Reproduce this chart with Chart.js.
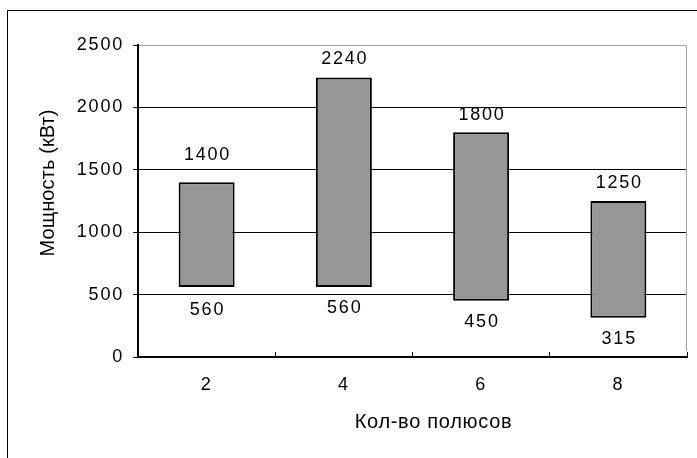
<!DOCTYPE html>
<html><head><meta charset="utf-8">
<script src="https://cdn.jsdelivr.net/npm/chart.js@4/dist/chart.umd.min.js"></script>
<style>html,body{margin:0;padding:0;background:#fff;}canvas{display:block;}</style>
</head><body>
<canvas id="c" width="697" height="458"></canvas>
<script>
const categories = ['2', '4', '6', '8'];
const minValues = [560, 560, 450, 315];
const maxValues = [1400, 2240, 1800, 1250];
const yTicks = [0, 500, 1000, 1500, 2000, 2500];
const xTitle = 'Кол-во полюсов';
const yTitle = 'Мощность (кВт)';

const FONT = "'Liberation Sans', Arial, sans-serif";
const TICK_SPACING = '1.8px';
function setSpacing(ctx, v) { try { ctx.letterSpacing = v; } catch (e) {} }

const decor = {
  id: 'decor',
  beforeUpdate(chart) { setSpacing(chart.ctx, TICK_SPACING); },
  beforeLayout(chart) { setSpacing(chart.ctx, TICK_SPACING); },
  beforeDraw(chart) {
    const ctx = chart.ctx;
    setSpacing(ctx, TICK_SPACING);
    ctx.save();
    ctx.fillStyle = '#fff';
    ctx.fillRect(0, 0, chart.width, chart.height);
    ctx.strokeStyle = '#000';
    ctx.lineWidth = 1;
    ctx.strokeRect(7.5, 10.5, chart.width + 40, chart.height + 40);
    ctx.restore();
  },
  beforeDatasetsDraw(chart) {
    const ctx = chart.ctx, a = chart.chartArea;
    ctx.save();
    ctx.strokeStyle = '#a6a6a6';
    ctx.lineWidth = 1;
    ctx.beginPath();
    ctx.moveTo(Math.round(a.right) - 0.5, a.top);
    ctx.lineTo(Math.round(a.right) - 0.5, a.bottom - 6);
    ctx.stroke();
    ctx.restore();
  },
  afterDatasetsDraw(chart, args, opts) {
    const ctx = chart.ctx;
    const meta = chart.getDatasetMeta(0);
    ctx.save();
    setSpacing(ctx, TICK_SPACING);
    ctx.fillStyle = '#000';
    ctx.font = '18px ' + FONT;
    ctx.textAlign = 'center';
    ctx.textBaseline = 'middle';
    meta.data.forEach((bar, i) => {
      const p = bar.getProps(['x', 'y', 'base'], true);
      const top = Math.min(p.y, p.base), bottom = Math.max(p.y, p.base);
      ctx.fillText(String(maxValues[i]), p.x + 0.9, top - opts.topOffsets[i]);
      ctx.fillText(String(minValues[i]), p.x + 0.9, bottom + opts.bottomOffsets[i]);
    });
    ctx.restore();
  },
  afterDraw(chart) {
    const ctx = chart.ctx, a = chart.chartArea;
    ctx.save();
    ctx.fillStyle = '#000';
    ctx.font = '20px ' + FONT;
    ctx.textAlign = 'center';
    ctx.textBaseline = 'middle';
    setSpacing(ctx, '0.7px');
    ctx.fillText(xTitle, (a.left + a.right) / 2 + 21, a.bottom + 65);
    ctx.restore();
    ctx.save();
    ctx.fillStyle = '#000';
    ctx.font = '20px ' + FONT;
    ctx.textAlign = 'center';
    ctx.textBaseline = 'middle';
    setSpacing(ctx, '0.1px');
    ctx.translate(48, (a.top + a.bottom) / 2 - 18);
    ctx.rotate(-Math.PI / 2);
    ctx.fillText(yTitle, 0, 0);
    ctx.restore();
  }
};

new Chart(document.getElementById('c'), {
  type: 'bar',
  data: {
    labels: categories,
    datasets: [{
      data: categories.map((c, i) => [minValues[i], maxValues[i]]),
      backgroundColor: '#969696',
      borderColor: '#000',
      borderWidth: 2,
      borderSkipped: false,
      barPercentage: 0.408,
      categoryPercentage: 1
    }]
  },
  options: {
    responsive: false,
    animation: false,
    devicePixelRatio: 1,
    layout: { padding: { left: 0, top: 45, right: 10, bottom: 0 } },
    plugins: {
      legend: { display: false },
      tooltip: { enabled: false },
      decor: { topOffsets: [27, 18, 17, 18], bottomOffsets: [23, 21, 21, 21] }
    },
    scales: {
      x: {
        grid: { display: true, offset: true, drawOnChartArea: false, drawTicks: true, tickLength: -5, color: '#000', lineWidth: 1 },
        border: { display: true, color: '#000', width: 2 },
        ticks: { color: '#000', font: { family: FONT, size: 18 }, padding: 22 },
        afterFit(s) { s.height = 101; }
      },
      y: {
        min: 0, max: 2500,
        afterBuildTicks(s) { s.ticks = yTicks.map(v => ({ value: v })); },
        ticks: { color: '#000', font: { family: FONT, size: 18 }, padding: 9, callback: v => String(v) },
        grid: {
          color: c => (c.tick && c.tick.value === 2500) ? '#a6a6a6' : '#000',
          tickColor: '#000', tickLength: 5, lineWidth: 1
        },
        border: { color: '#000', width: 2 },
        afterFit(s) { s.width = 138; }
      }
    }
  },
  plugins: [decor]
});
</script>
</body></html>
